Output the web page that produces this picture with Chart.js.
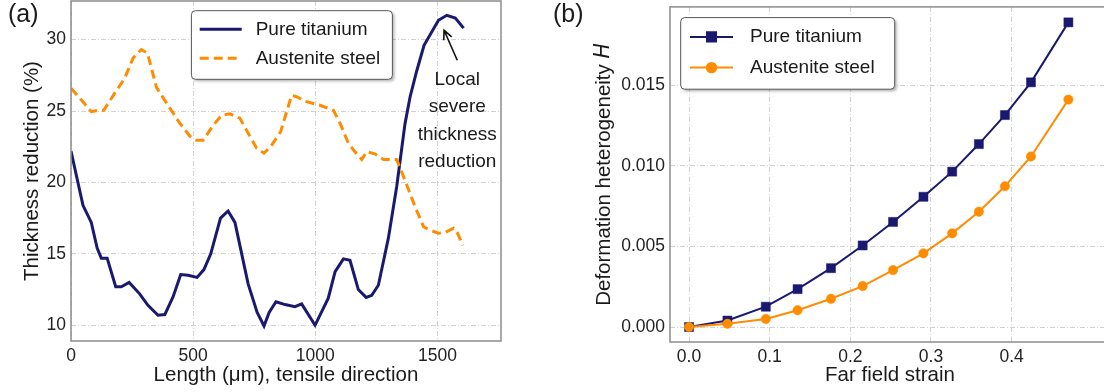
<!DOCTYPE html>
<html>
<head>
<meta charset="utf-8">
<title>Thickness reduction and deformation heterogeneity</title>
<script src="https://cdn.jsdelivr.net/npm/chart.js@4.4.1/dist/chart.umd.min.js"></script>
<style>
  html, body { margin: 0; padding: 0; background: #fff; overflow: hidden; }
  #wrap { position: relative; width: 1104px; height: 392px; overflow: hidden; }
  .panel { position: absolute; top: 0; width: 560px; height: 392px; }
  #panelA { left: 0; }
  #panelB { left: 560px; }
  .tag { position: absolute; top: -1px; font: 25px "Liberation Sans", Arial, sans-serif; color: #1a1a1a; }
</style>
</head>
<body>
<div id="wrap">
  <div class="panel" id="panelA"><canvas id="chartA" width="560" height="392"></canvas></div>
  <div class="panel" id="panelB"><canvas id="chartB" width="560" height="392"></canvas></div>
  <div class="tag" style="left:8px">(a)</div>
  <div class="tag" style="left:553px">(b)</div>
</div>
<script>
// (a) thickness reduction profile along the tensile direction
const tiLength = [0, 49, 83, 107, 124, 148, 183, 206, 238, 281, 315, 356, 384, 418, 449, 479, 516, 544, 572, 612,
  643, 671, 725, 762, 790, 811, 839, 876, 917, 944, 999, 1053, 1081, 1115, 1142, 1176, 1208, 1231, 1258, 1299,
  1333, 1367, 1388, 1415, 1445, 1504, 1538, 1573, 1607];
const tiReduction = [22.2, 18.4, 17.2, 15.4, 14.7, 14.7, 12.7, 12.7, 13.0, 12.2, 11.4, 10.7, 10.75, 12.0, 13.55, 13.5, 13.35, 13.9, 15.0, 17.5,
  18.0, 17.2, 12.9, 10.9, 9.95, 10.9, 11.65, 11.45, 11.3, 11.5, 10.0, 11.9, 13.75, 14.65, 14.55, 12.5, 11.95, 12.1, 12.8, 16.1,
  19.7, 24.1, 26.0, 27.8, 29.6, 31.35, 31.7, 31.5, 30.8];

const auLength = [0, 49, 83, 111, 134, 179, 220, 254, 288, 313, 350, 391, 445, 486, 514, 541, 582, 616, 650, 691,
  725, 760, 790, 817, 858, 903, 923, 964, 1019, 1074, 1101, 1135, 1162, 1190, 1210, 1244, 1279, 1333, 1367, 1408,
  1443, 1470, 1504, 1532, 1566, 1582, 1604];
const auReduction = [26.6, 25.65, 24.95, 25.05, 25.05, 26.25, 27.3, 28.7, 29.3, 29.05, 26.65, 25.55, 24.15, 23.25, 22.95, 22.95, 24.0, 24.7, 24.8, 24.5,
  23.45, 22.4, 22.05, 22.5, 23.55, 26.1, 26.0, 25.65, 25.4, 25.05, 24.15, 22.75, 22.15, 21.6, 22.15, 22.0, 21.6, 21.6, 20.15, 18.3,
  16.9, 16.65, 16.45, 16.5, 16.8, 16.45, 15.6];

const lengthTicks = [0, 500, 1000, 1500];
const reductionTicks = [10, 15, 20, 25, 30];

// (b) deformation heterogeneity vs far field strain
const strain = [0, 0.0476, 0.0952, 0.1346, 0.176, 0.2153, 0.253, 0.2907, 0.3263, 0.3594, 0.3917, 0.424, 0.4704];
const tiH = [0, 0.0004, 0.00126, 0.00235, 0.00365, 0.00506, 0.00652, 0.00808, 0.00964, 0.01135, 0.01315, 0.01518, 0.0189];
const auH = [0, 0.0002, 0.0005, 0.00104, 0.00175, 0.00254, 0.00353, 0.00457, 0.00581, 0.00715, 0.00873, 0.01058, 0.01411];

const strainTicks = [0, 0.1, 0.2, 0.3, 0.4];
const hTicks = [0, 0.005, 0.01, 0.015];

const seriesNames = ['Pure titanium', 'Austenite steel'];

const NAVY = '#191970';
const ORANGE = '#ff8c00';
const FONT = '"Liberation Sans", Arial, sans-serif';

Chart.defaults.font.family = FONT;
Chart.defaults.color = '#222';

const pairs = (xs, ys) => xs.map((x, i) => ({x: x, y: ys[i]}));

// box round the plot area
const framePlugin = {
  id: 'frame',
  afterDraw(chart) {
    const {ctx, chartArea: a} = chart;
    ctx.save();
    ctx.strokeStyle = '#8c8c8c';
    ctx.lineWidth = 1.5;
    ctx.strokeRect(a.left, a.top, a.right - a.left, a.bottom - a.top);
    ctx.restore();
  }
};

// legend box drawn inside the plot area
const boxLegend = {
  id: 'boxLegend',
  afterDraw(chart, args, opts) {
    const {ctx, chartArea: a} = chart;
    const x0 = a.left + opts.x, y0 = a.top + opts.y;
    ctx.save();
    ctx.shadowColor = 'rgba(0,0,0,0.3)';
    ctx.shadowOffsetX = 2;
    ctx.shadowOffsetY = 2;
    ctx.shadowBlur = 3;
    ctx.fillStyle = '#fff';
    ctx.beginPath();
    ctx.roundRect(x0, y0, opts.w, opts.h, 4);
    ctx.fill();
    ctx.shadowColor = 'transparent';
    ctx.strokeStyle = '#555';
    ctx.lineWidth = 1;
    ctx.stroke();
    ctx.font = opts.fontSize + 'px ' + FONT;
    ctx.textBaseline = 'middle';
    opts.order.forEach((di, row) => {
      const ds = chart.data.datasets[di];
      const cy = y0 + opts.rows[row];
      ctx.strokeStyle = ds.borderColor;
      ctx.lineWidth = ds.borderWidth;
      ctx.setLineDash(ds.borderDash || []);
      ctx.beginPath();
      ctx.moveTo(x0 + opts.lineFrom, cy);
      ctx.lineTo(x0 + opts.lineTo, cy);
      ctx.stroke();
      ctx.setLineDash([]);
      if (ds.pointRadius > 0) {
        ctx.fillStyle = ds.pointBackgroundColor;
        ctx.strokeStyle = ds.borderColor;
        Chart.helpers.drawPoint(ctx, {pointStyle: ds.pointStyle, radius: ds.pointRadius, borderWidth: ds.pointBorderWidth},
          x0 + (opts.lineFrom + opts.lineTo) / 2, cy);
      }
      ctx.fillStyle = '#1a1a1a';
      ctx.fillText(ds.label, x0 + opts.textX, cy);
    });
    ctx.restore();
  }
};

// multi-line note with an arrow pointing at the peak
const notePlugin = {
  id: 'note',
  afterDatasetsDraw(chart, args, opts) {
    const {ctx, scales: {x, y}} = chart;
    const tx = x.getPixelForValue(opts.textAt[0]);
    const ty = y.getPixelForValue(opts.textAt[1]);
    ctx.save();
    ctx.font = opts.fontSize + 'px ' + FONT;
    ctx.fillStyle = '#1a1a1a';
    ctx.textAlign = 'center';
    ctx.textBaseline = 'alphabetic';
    opts.lines.forEach((t, i) => ctx.fillText(t, tx, ty + i * opts.lineGap));

    const fx = x.getPixelForValue(opts.from[0]), fy = y.getPixelForValue(opts.from[1]);
    const px = x.getPixelForValue(opts.to[0]), py = y.getPixelForValue(opts.to[1]);
    const ang = Math.atan2(py - fy, px - fx);
    ctx.strokeStyle = '#111';
    ctx.lineWidth = 1.6;
    ctx.beginPath();
    ctx.moveTo(fx, fy);
    ctx.lineTo(px, py);
    ctx.moveTo(px - 10 * Math.cos(ang - 0.45), py - 10 * Math.sin(ang - 0.45));
    ctx.lineTo(px, py);
    ctx.lineTo(px - 10 * Math.cos(ang + 0.45), py - 10 * Math.sin(ang + 0.45));
    ctx.stroke();
    ctx.restore();
  }
};

// y title with an italic symbol at the end
const yTitlePlugin = {
  id: 'yTitle',
  afterDraw(chart, args, opts) {
    const {ctx, chartArea: a} = chart;
    ctx.save();
    ctx.translate(opts.x, (a.top + a.bottom) / 2);
    ctx.rotate(-Math.PI / 2);
    ctx.textBaseline = 'middle';
    ctx.fillStyle = '#1a1a1a';
    const plain = opts.fontSize + 'px ' + FONT;
    const ital = 'italic ' + opts.fontSize + 'px "DejaVu Sans", sans-serif';
    ctx.font = plain;
    const w1 = ctx.measureText(opts.text).width;
    ctx.font = ital;
    const w2 = ctx.measureText(opts.symbol).width;
    const start = -(w1 + w2) / 2;
    ctx.font = plain;
    ctx.fillText(opts.text, start, 0);
    ctx.font = ital;
    ctx.fillText(opts.symbol, start + w1, 0);
    ctx.restore();
  }
};

function axis(min, max, tickValues, fmt, extra) {
  return Object.assign({
    type: 'linear',
    min: min,
    max: max,
    afterBuildTicks: s => { s.ticks = tickValues.map(v => ({value: v})); },
    ticks: {font: {size: 17.5}, color: '#222', padding: 5, callback: fmt},
    grid: {color: '#d2d2d2', lineWidth: 1, drawTicks: false},
    border: {display: false, dash: [5, 2, 1, 2]}
  }, extra);
}

// fixed scale boxes so the plot area sits exactly where wanted
const fixX = h => s => { s.height = h; s.paddingLeft = 0; s.paddingRight = 0; };
const fixY = w => s => { s.width = w; s.paddingTop = 0; s.paddingBottom = 0; };

new Chart(document.getElementById('chartA'), {
  type: 'line',
  data: {
    datasets: [
      {
        label: seriesNames[0],
        data: pairs(tiLength, tiReduction),
        borderColor: NAVY,
        borderWidth: 3,
        pointRadius: 0,
        tension: 0,
        order: 1
      },
      {
        label: seriesNames[1],
        data: pairs(auLength, auReduction),
        borderColor: ORANGE,
        borderWidth: 3,
        borderDash: [9, 5],
        pointRadius: 0,
        tension: 0,
        order: 0
      }
    ]
  },
  options: {
    responsive: false,
    animation: false,
    layout: {padding: {top: 1, right: 59, left: 0, bottom: 0}},
    scales: {
      x: axis(0, 1760, lengthTicks, v => v, {
        title: {display: true, text: 'Length (μm), tensile direction', font: {size: 20.5}, color: '#1a1a1a', padding: {top: 0, bottom: 4}},
        afterFit: fixX(51)
      }),
      y: axis(8.9, 32.7, reductionTicks, v => v, {
        title: {display: true, text: 'Thickness reduction (%)', font: {size: 20.5}, color: '#1a1a1a', padding: {top: 20, bottom: 0}},
        afterFit: fixY(71)
      })
    },
    plugins: {
      legend: {display: false},
      tooltip: {enabled: false},
      boxLegend: {x: 120.4, y: 9.7, w: 201, h: 68.6, rows: [18.6, 47.6], lineFrom: 8.3, lineTo: 50.3, textX: 64.3, fontSize: 19, order: [0, 1]},
      note: {
        lines: ['Local', 'severe', 'thickness', 'reduction'],
        textAt: [1581, 26.82], lineGap: 27.4, fontSize: 19,
        from: [1581, 28.55], to: [1527, 30.65]
      }
    }
  },
  plugins: [framePlugin, notePlugin, boxLegend]
});

new Chart(document.getElementById('chartB'), {
  type: 'line',
  data: {
    datasets: [
      {
        label: seriesNames[0],
        data: pairs(strain, tiH),
        borderColor: NAVY,
        borderWidth: 2,
        pointStyle: 'rect',
        pointRadius: 6.4,
        pointBackgroundColor: NAVY,
        pointBorderColor: NAVY,
        pointBorderWidth: 0.5,
        tension: 0,
        order: 1
      },
      {
        label: seriesNames[1],
        data: pairs(strain, auH),
        borderColor: ORANGE,
        borderWidth: 2,
        pointStyle: 'circle',
        pointRadius: 4.7,
        pointBackgroundColor: ORANGE,
        pointBorderColor: ORANGE,
        pointBorderWidth: 0.5,
        tension: 0,
        order: 0
      }
    ]
  },
  options: {
    responsive: false,
    animation: false,
    layout: {padding: {top: 1, right: 10, left: 0, bottom: 0}},
    scales: {
      x: axis(-0.0236, 0.522, strainTicks, v => v.toFixed(1), {
        title: {display: true, text: 'Far field strain', font: {size: 20.5}, color: '#1a1a1a', padding: {top: 0, bottom: 4}},
        afterFit: fixX(50)
      }),
      y: axis(-0.00093, 0.01986, hTicks, v => v.toFixed(3), {
        afterFit: fixY(110)
      })
    },
    plugins: {
      legend: {display: false},
      tooltip: {enabled: false},
      boxLegend: {x: 10.7, y: 10.7, w: 214, h: 71.6, rows: [19.3, 50], lineFrom: 9.3, lineTo: 52.3, textX: 69.3, fontSize: 19, order: [0, 1]},
      yTitle: {x: 44, text: 'Deformation heterogeneity ', symbol: 'H', fontSize: 20.5}
    }
  },
  plugins: [framePlugin, yTitlePlugin, boxLegend]
});
</script>
</body>
</html>
